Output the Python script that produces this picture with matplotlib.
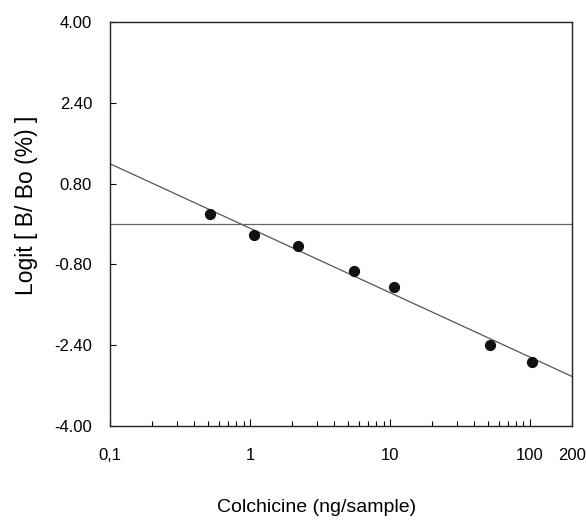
import matplotlib
matplotlib.use("Agg")
import matplotlib.pyplot as plt
import numpy as np
from matplotlib.ticker import FixedLocator, FixedFormatter, LogLocator, NullFormatter

plt.rcParams['font.family'] = ['Liberation Sans', 'DejaVu Sans']

# Data
dose = [0.52, 1.07, 2.2, 5.5, 10.7, 52, 103]
logit = [0.20, -0.22, -0.43, -0.94, -1.24, -2.39, -2.73]

# Fitted line parameters: y = intercept + slope * log10(x)
fit_slope = -1.275
fit_intercept = -0.085

x_ticks = [0.1, 1, 10, 100, 200]
x_ticklabels = ["0,1", "1", "10", "100", "200"]
y_ticks = [4.00, 2.40, 0.80, -0.80, -2.40, -4.00]
y_ticklabels = ["4.00", "2.40", "0.80", "-0.80", "-2.40", "-4.00"]

fig = plt.figure(figsize=(5.86, 5.22), dpi=100)
ax = fig.add_axes([0.188, 0.184, 0.788, 0.774])

ax.set_xscale('log')
ax.set_xlim(0.1, 200)
ax.set_ylim(-4.0, 4.0)

xfit = np.array([0.1, 200])
ax.plot(xfit, fit_intercept + fit_slope * np.log10(xfit), color='#555555', lw=0.9)
ax.axhline(0, color='#666666', lw=0.9)
ax.scatter(dose, logit, s=50, color='#111111', zorder=3)

ax.xaxis.set_major_locator(FixedLocator(x_ticks))
ax.xaxis.set_major_formatter(FixedFormatter(x_ticklabels))
ax.xaxis.set_minor_locator(LogLocator(base=10, subs=np.arange(2, 10)))
ax.xaxis.set_minor_formatter(NullFormatter())
ax.yaxis.set_major_locator(FixedLocator(y_ticks))
ax.yaxis.set_major_formatter(FixedFormatter(y_ticklabels))

ax.tick_params(axis='x', which='major', direction='in', length=5, width=0.8, pad=16, labelsize=12)
ax.tick_params(axis='x', which='minor', direction='in', length=3.5, width=0.8)
ax.tick_params(axis='y', which='major', direction='in', length=4, width=0.8, pad=13, labelsize=12)

for s in ax.spines.values():
    s.set_linewidth(1.0)
    s.set_color('#222222')

ax.set_xlabel("Colchicine (ng/sample)", fontsize=14, labelpad=26)
ax.set_ylabel("Logit [ B/ Bo (%) ]", fontsize=16.5, labelpad=12)
ax.xaxis.label.set_x(0.448)
ax.yaxis.label.set_y(0.545)

fig.savefig("out.png", dpi=100)
